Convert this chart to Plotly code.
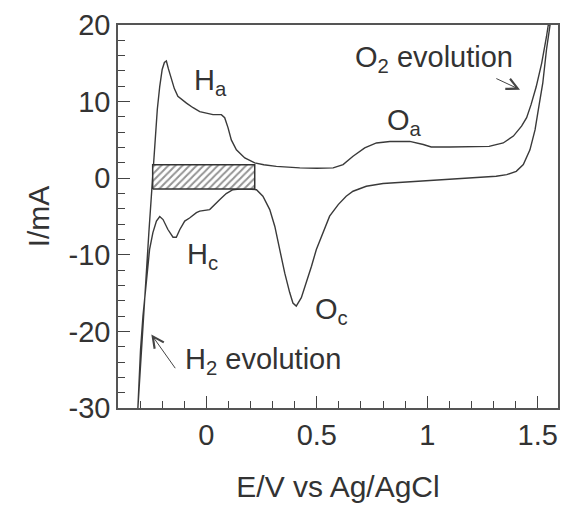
import plotly.graph_objects as go

# Anodic (forward) sweep: potential E (V) and current I (mA)
E_anodic = [-0.31, -0.298, -0.285, -0.272, -0.26, -0.25, -0.242, -0.232, -0.222, -0.211,
            -0.2, -0.19, -0.181, -0.172, -0.159, -0.145, -0.129, -0.11, -0.09, -0.06,
            -0.03, 0.0, 0.03, 0.068, 0.083, 0.098, 0.113, 0.136, 0.174, 0.219,
            0.26, 0.317, 0.377, 0.423, 0.5, 0.574, 0.619, 0.664, 0.717, 0.77,
            0.831, 0.88, 0.921, 0.982, 1.018, 1.103, 1.2, 1.28, 1.344, 1.39,
            1.427, 1.45, 1.47, 1.493, 1.518, 1.53, 1.54, 1.548]
I_anodic = [-30, -24, -18, -12.5, -7, -3, 1.5, 5.5, 9.0, 12.0,
            14.2, 15.1, 15.3, 14.3, 12.9, 11.7, 10.7, 10.2, 9.8, 9.2,
            8.7, 8.5, 8.3, 8.3, 7.9, 6.6, 5.0, 3.7, 2.65, 2.0,
            1.75, 1.55, 1.4, 1.35, 1.3, 1.35, 1.78, 2.86, 3.95, 4.6,
            4.8, 4.85, 4.8, 4.4, 4.08, 4.08, 4.1, 4.16, 4.6, 5.5,
            6.8, 7.9, 9.6, 11.9, 15.0, 16.7, 18.5, 20]

# Cathodic (reverse) sweep
E_cathodic = [1.556, 1.54, 1.523, 1.503, 1.488, 1.465, 1.435, 1.403, 1.36, 1.312,
              1.2, 1.1, 0.98, 0.875, 0.8, 0.724, 0.664, 0.633, 0.597, 0.558,
              0.528, 0.498, 0.476, 0.452, 0.43, 0.407, 0.392, 0.377, 0.355, 0.332,
              0.31, 0.287, 0.256, 0.227, 0.2, 0.16, 0.12, 0.09, 0.06, 0.015,
              -0.03, -0.045, -0.076, -0.098, -0.12, -0.136, -0.151, -0.174, -0.196, -0.211,
              -0.226, -0.242, -0.257, -0.272, -0.287, -0.298, -0.306, -0.31]
I_cathodic = [20, 16.8, 12.4, 8.96, 6.3, 3.7, 1.78, 0.9, 0.47, 0.25,
              0.05, -0.1, -0.3, -0.53, -0.7, -1.05, -1.7, -2.35, -3.45, -4.96,
              -7.1, -9.3, -11.5, -13.6, -15.6, -16.7, -16.3, -14.9, -12.4, -9.3,
              -6.3, -4.1, -2.36, -1.5, -1.45, -1.4, -1.5, -2.0, -2.8, -4.1,
              -4.3, -4.5, -5.2, -5.6, -6.7, -7.7, -7.7, -6.7, -5.4, -5.0,
              -5.6, -7.1, -9.3, -13.7, -18, -22.4, -26.6, -30]

# Hatched double-layer region
rect_E = [-0.243, 0.219]
rect_I = [-1.4, 1.75]

# Peak / region labels: (text, E, I)
labels = [
    ("H<sub>a</sub>", -0.067, 12.6),
    ("O<sub>a</sub>", 0.808, 7.4),
    ("H<sub>c</sub>", -0.098, -10.2),
    ("O<sub>c</sub>", 0.482, -17.4),
    ("O<sub>2</sub> evolution", 0.663, 15.5),
    ("H<sub>2</sub> evolution", -0.107, -23.9),
]
# Arrows: (head E, head I, tail E, tail I)
arrows = [
    (1.42, 11.56, 1.306, 13.1),
    (-0.249, -20.4, -0.136, -25.0),
]

x_ticks = [0, 0.5, 1, 1.5]
x_ticktext = ["0", "0.5", "1", "1.5"]
y_ticks = [-30, -20, -10, 0, 10, 20]
y_ticktext = ["-30", "-20", "-10", "0", "10", "20"]

ink = "#333333"
font_family = "Liberation Sans, Arial, Helvetica, sans-serif"

fig = go.Figure()
fig.add_trace(go.Scatter(x=E_anodic + E_cathodic, y=I_anodic + I_cathodic,
                         mode="lines", line=dict(color="#3a3a3a", width=1.4),
                         showlegend=False, hoverinfo="skip"))
fig.add_trace(go.Scatter(
    x=[rect_E[0], rect_E[1], rect_E[1], rect_E[0], rect_E[0]],
    y=[rect_I[0], rect_I[0], rect_I[1], rect_I[1], rect_I[0]],
    mode="lines", fill="toself", fillcolor="white",
    fillpattern=dict(shape="/", fgcolor="#2a2a2a", bgcolor="white", size=5, solidity=0.4),
    line=dict(color="#333333", width=1.5), showlegend=False, hoverinfo="skip"))

for text, ex, iy in labels:
    fig.add_annotation(x=ex, y=iy, text=text, showarrow=False, xanchor="left",
                       yanchor="middle", font=dict(size=29, color=ink, family=font_family))
for hx, hy, tx, ty in arrows:
    fig.add_annotation(x=hx, y=hy, ax=tx, ay=ty, axref="x", ayref="y", text="",
                       showarrow=True, arrowhead=5, arrowsize=2.2, arrowwidth=1,
                       arrowcolor="#444444")

axis_common = dict(showline=True, linecolor="#555555", linewidth=1.5, mirror=True,
                   ticks="inside", ticklen=12, tickwidth=1.2, tickcolor="#444444",
                   showgrid=False, zeroline=False, automargin=False,
                   tickfont=dict(size=29, color=ink, family=font_family))
fig.update_xaxes(range=[-0.4, 1.592], tickvals=x_ticks, ticktext=x_ticktext,
                 minor=dict(dtick=0.1, tick0=0, ticks="inside", ticklen=7,
                            tickcolor="#444444", tickwidth=1.2),
                 title=dict(text="E/V vs Ag/AgCl", standoff=26,
                            font=dict(size=30, color=ink, family=font_family)),
                 **axis_common)
fig.update_yaxes(range=[-30, 20], tickvals=y_ticks, ticktext=y_ticktext,
                 minor=dict(dtick=2, tick0=0, ticks="inside", ticklen=7,
                            tickcolor="#444444", tickwidth=1.2),
                 title=dict(text="I/mA", standoff=10,
                            font=dict(size=30, color=ink, family=font_family)),
                 **axis_common)
fig.update_layout(width=561, height=506, margin=dict(l=118, r=3, t=25, b=98),
                  paper_bgcolor="white", plot_bgcolor="white")
fig.write_html("out.html", config={"displayModeBar": False},
               post_script="document.body.style.margin='0';")
